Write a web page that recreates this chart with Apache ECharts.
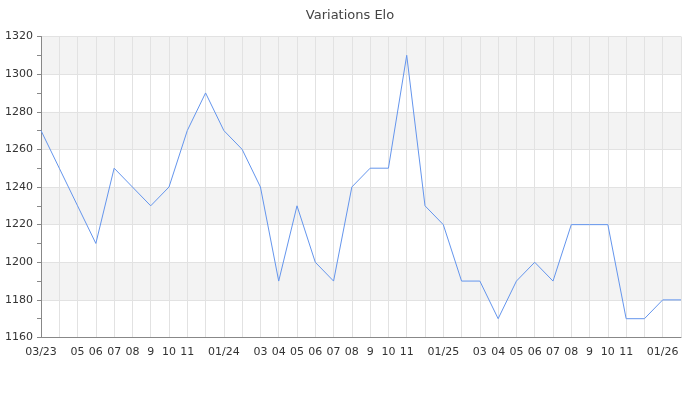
<!DOCTYPE html>
<html><head><meta charset="utf-8">
<script src="https://cdn.jsdelivr.net/npm/echarts@6/dist/echarts.min.js"></script>
<style>html,body{margin:0;padding:0;background:#fff}#c{width:700px;height:400px}</style>
</head><body><div id="c"></div>
<script>
const months = ['2023-03','2023-04','2023-05','2023-06','2023-07','2023-08','2023-09','2023-10','2023-11','2023-12',
 '2024-01','2024-02','2024-03','2024-04','2024-05','2024-06','2024-07','2024-08','2024-09','2024-10','2024-11','2024-12',
 '2025-01','2025-02','2025-03','2025-04','2025-05','2025-06','2025-07','2025-08','2025-09','2025-10','2025-11','2025-12',
 '2026-01','2026-02'];
const elo = [1270,1250,1230,1210,1250,1240,1230,1240,1270,1290,
 1270,1260,1240,1190,1230,1200,1190,1240,1250,1250,1310,1230,
 1220,1190,1190,1170,1190,1200,1190,1220,1220,1220,1170,1170,
 1180,1180];
const xLabels = ['03/23','','05','06','07','08','9','10','11','',
 '01/24','','03','04','05','06','07','08','9','10','11','',
 '01/25','','03','04','05','06','07','08','9','10','11','',
 '01/26',''];
const yTicks = {min:1160, max:1320, step:20};

const chart = echarts.init(document.getElementById('c'));
chart.setOption({
  animation:false,
  title:{text:'Variations Elo', left:'center', top:4, textStyle:{fontSize:13, fontWeight:'normal', color:'#444', fontFamily:'DejaVu Sans'}},
  grid:{left:41, right:19, top:36.5, bottom:62.5},
  xAxis:{
    type:'category', data:months, boundaryGap:false,
    axisLine:{lineStyle:{color:'#888'}},
    axisTick:{show:false},
    splitLine:{show:true, interval:0, lineStyle:{color:'#e2e2e2'}},
    axisLabel:{
      color:'#333', fontSize:11, fontFamily:'DejaVu Sans', interval:0, margin:9,
      formatter:function(v, idx){ return xLabels[idx]; }
    }
  },
  yAxis:{
    type:'value', min:yTicks.min, max:yTicks.max, interval:yTicks.step,
    axisLine:{show:true, lineStyle:{color:'#888'}},
    axisTick:{show:true, length:4, lineStyle:{color:'#888'}},
    minorTick:{show:true, splitNumber:2, length:4, lineStyle:{color:'#888'}},
    axisLabel:{color:'#333', fontSize:11, fontFamily:'DejaVu Sans', formatter:function(v){return String(v);}},
    splitLine:{show:true, lineStyle:{color:'#e2e2e2'}},
    splitArea:{show:true, areaStyle:{color:['#ffffff','#f3f3f3']}}
  },
  series:[{type:'line', data:elo, showSymbol:false, symbol:'none', lineStyle:{width:1, color:'#6495ed'}, itemStyle:{color:'#6495ed'}}]
});
</script></body></html>
